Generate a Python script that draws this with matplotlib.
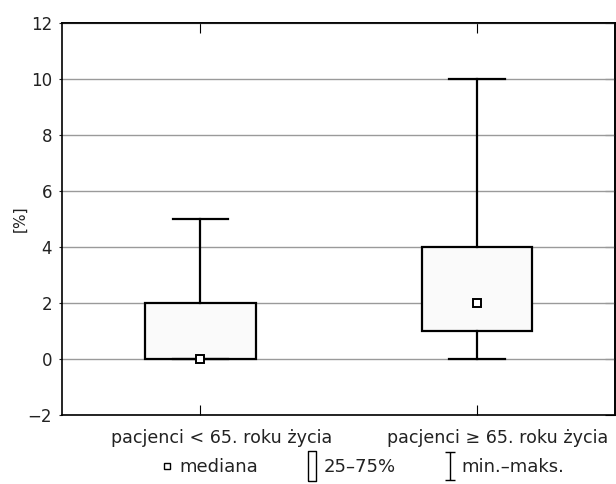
import matplotlib
matplotlib.use("Agg")
import matplotlib.pyplot as plt
from matplotlib.lines import Line2D
from matplotlib.path import Path
from matplotlib.transforms import ScaledTranslation

plt.rcParams['font.family'] = ['DejaVu Sans']

groups = ['pacjenci < 65. roku życia', 'pacjenci ≥ 65. roku życia']
mins = [0, 0]
q1s = [0, 1]
medians = [0, 2]
q3s = [2, 4]
maxs = [5, 10]
y_ticks = [-2, 0, 2, 4, 6, 8, 10, 12]
legend_labels = ['mediana', '25–75%', 'min.–maks.']

fig = plt.figure(figsize=(6.16, 4.84), dpi=100)
ax = fig.add_axes([0.1006, 0.1426, 0.8985, 0.81])

positions = list(range(1, len(groups) + 1))
stats = []
for i, g in enumerate(groups):
    stats.append({'label': g, 'med': medians[i], 'q1': q1s[i], 'q3': q3s[i],
                  'whislo': mins[i], 'whishi': maxs[i], 'fliers': []})

ax.bxp(stats, positions=positions, widths=0.4, patch_artist=True,
       showfliers=False, zorder=3,
       boxprops=dict(facecolor='#fafafa', edgecolor='black', linewidth=1.6),
       whiskerprops=dict(color='black', linewidth=1.6),
       capprops=dict(color='black', linewidth=1.6),
       medianprops=dict(linestyle='none'),
       capwidths=0.2)
ax.plot(positions, medians, ls='none', marker='s', ms=5.5, mfc='white',
        mec='black', mew=1.4, zorder=4)

ax.set_xlim(0.5, 2.5)
ax.set_ylim(-2, 12)
ax.set_yticks(y_ticks)
ax.set_yticklabels(['−2' if t < 0 else str(t) for t in y_ticks])
ax.yaxis.grid(True, color='#9a9a9a', linewidth=1.0)
ax.set_axisbelow(True)
ax.tick_params(axis='y', direction='out', length=2, labelsize=12, colors='#222222', pad=5)
ax.tick_params(axis='x', direction='in', length=7, labelsize=12.6, pad=10)
ax.tick_params(axis='x', labelcolor='#222222')
ax.set_ylabel('[%]', fontsize=11, labelpad=0, color='#222222')

# labels in the original sit a bit right of their ticks
shift = ScaledTranslation(0.21, 0, fig.dpi_scale_trans)
for lbl in ax.get_xticklabels():
    lbl.set_transform(lbl.get_transform() + shift)

sec_y = ax.secondary_yaxis('right')
sec_y.set_yticks(y_ticks)
sec_y.tick_params(direction='in', length=7, labelright=False)
sec_x = ax.secondary_xaxis('top')
sec_x.set_xticks(positions)
sec_x.tick_params(direction='in', length=7, labeltop=False)

for sp in ax.spines.values():
    sp.set_linewidth(1.2)
for a in (sec_x, sec_y):
    for sp in a.spines.values():
        sp.set_linewidth(1.2)

box_marker = Path([(-0.25, -1), (0.25, -1), (0.25, 1), (-0.25, 1), (-0.25, -1)])
ibeam = Path([(-0.35, 1), (0.35, 1), (0, 1), (0, -1), (-0.35, -1), (0.35, -1)],
             [Path.MOVETO, Path.LINETO, Path.MOVETO, Path.LINETO, Path.MOVETO, Path.LINETO])
handles = [
    Line2D([], [], ls='none', marker='s', ms=5, mfc='white', mec='black', mew=1.0),
    Line2D([], [], ls='none', marker=box_marker, ms=22, mfc='white', mec='black', mew=1.0),
    Line2D([], [], ls='none', marker=ibeam, ms=20, mfc='none', mec='black', mew=1.0),
]
fig.legend(handles, legend_labels, loc='center', bbox_to_anchor=(0.588, 0.035),
           ncol=3, frameon=False, fontsize=13, handlelength=0.8,
           handletextpad=0.25, columnspacing=2.6, labelcolor='#222222')

fig.savefig('out.png', dpi=100)
